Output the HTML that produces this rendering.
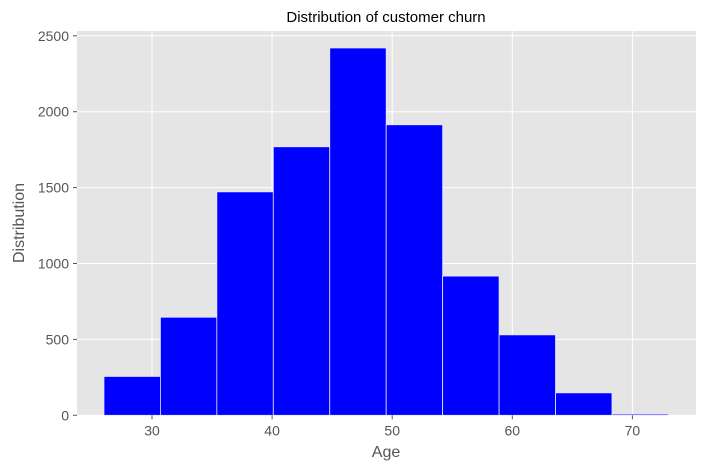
<!DOCTYPE html>
<html><head><meta charset="utf-8"><style>
body{margin:0;background:#fff;font-family:"Liberation Sans","DejaVu Sans",sans-serif;}
svg text{fill:#555;}
</style></head><body>
<svg width="705" height="469" xmlns="http://www.w3.org/2000/svg">
<rect x="77" y="31" width="619" height="384" fill="#e5e5e5"/>
<g id="grid"></g>
<g id="bars"></g>
<g id="axes"></g>
<text x="386" y="22" text-anchor="middle" font-size="15" style="fill:#000">Distribution of customer churn</text>
<text x="386" y="457" text-anchor="middle" font-size="16">Age</text>
<text x="24" y="223" text-anchor="middle" font-size="16" transform="rotate(-90 24 223)">Distribution</text>
</svg>
<script>
const binStart = 26;
const binWidth = 4.7;
const counts = [256, 646, 1472, 1769, 2420, 1914, 917, 530, 148, 8];
const xTicks = [30, 40, 50, 60, 70];
const yTicks = [0, 500, 1000, 1500, 2000, 2500];

const X0 = 77, X1 = 696, Y0 = 415.3, Y1 = 31;
function sx(v){ return 152 + (v - 30) * 12.01; }
function sy(v){ return Y0 - v * 0.1518; }
const NS = 'http://www.w3.org/2000/svg';
function mk(tag, attrs, parent){
  const e = document.createElementNS(NS, tag);
  for (const k in attrs) e.setAttribute(k, attrs[k]);
  document.getElementById(parent).appendChild(e);
  return e;
}
xTicks.forEach(t => {
  const g = mk('line', {x1:sx(t), x2:sx(t), y1:Y1, y2:Y0, stroke:'#fff', 'stroke-width':1}, 'grid');
  
  
  const tk = mk('line', {x1:sx(t), x2:sx(t), y1:Y0, y2:Y0+4, stroke:'#555'}, 'axes');
  
  
  const tx = mk('text', {x:sx(t), y:Y0+20, 'text-anchor':'middle', 'font-size':14}, 'axes');
  tx.textContent = t;
  
  
});
yTicks.forEach(t => {
  const g = mk('line', {x1:X0, x2:X1, y1:sy(t), y2:sy(t), stroke:'#fff', 'stroke-width':1}, 'grid');
  
  
  const tk = mk('line', {x1:X0-4, x2:X0, y1:sy(t), y2:sy(t), stroke:'#555'}, 'axes');
  
  
  const tx = mk('text', {x:X0-8, y:sy(t)+5, 'text-anchor':'end', 'font-size':14}, 'axes');
  tx.textContent = t;
  
  
});
counts.forEach((c, i) => {
  const a = sx(binStart + i * binWidth), b = sx(binStart + (i + 1) * binWidth);
  const r = mk('rect', {x:a, y:sy(c), width:b - a, height:Y0 - sy(c), fill:'#0000ff', stroke:'#e6e6ff', 'stroke-width':0.8}, 'bars');
  
  
});
</script>
</body></html>
